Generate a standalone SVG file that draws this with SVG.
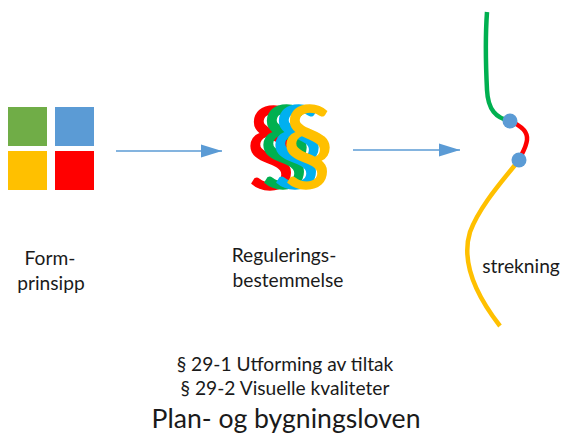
<svg xmlns="http://www.w3.org/2000/svg" width="563" height="433" viewBox="0 0 563 433">
<style>
text{font-family:Lato,"Liberation Sans",sans-serif;fill:#1a1a1a;text-anchor:middle}
.l{font-size:19.2px}
.p{font-size:106px;stroke-width:1.5px}
.c{fill:none;stroke-width:4.5}
.a{fill:none;stroke:#5b9bd5;stroke-width:1.3;marker-end:url(#ah)}
.d{fill:#5b9bd5}
</style>
<defs><marker id="ah" markerUnits="userSpaceOnUse" markerWidth="22" markerHeight="14" refX="21" refY="7" orient="auto"><path d="M0 0.5L21 7L0 13.5Z" fill="#5b9bd5"/></marker></defs>
<rect width="563" height="433" fill="#fff"/>
<g id="formprinsipp">
<rect x="8" y="107" width="39" height="39" fill="#70ad47"/>
<rect x="55" y="107" width="39" height="39" fill="#5b9bd5"/>
<rect x="8" y="151" width="39" height="39" fill="#ffc000"/>
<rect x="55" y="151" width="39" height="39" fill="#f00"/>
<text class="l" x="50" y="265">Form-</text>
<text class="l" x="51" y="290">prinsipp</text>
</g>
<g id="connectors">
<line class="a" x1="116" y1="151" x2="222" y2="151"/>
<line class="a" x1="353" y1="150" x2="460" y2="150"/>
</g>
<g id="regulering">
<text class="p" x="272" y="183" style="fill:#f00;stroke:#f00">§</text>
<text class="p" x="285" y="182" style="fill:#00b050;stroke:#00b050">§</text>
<text class="p" x="297" y="182" style="fill:#00b0f0;stroke:#00b0f0">§</text>
<text class="p" x="308" y="182" style="fill:#ffc000;stroke:#ffc000">§</text>
<text class="l" x="284" y="262">Regulerings-</text>
<text class="l" x="288" y="287">bestemmelse</text>
</g>
<g id="strekning">
<path class="c" stroke="#00b050" d="M487 12C485 40 486 70 487 90C488 110 496 118 510 121"/>
<path class="c" stroke="#f00" d="M510 121C522 126 528 132 527 140C526 148 522 153 519 160"/>
<path class="c" stroke="#ffc000" d="M519 160C505 178 480 205 470 232C462 258 472 290 500 326"/>
<circle class="d" cx="510" cy="121" r="7.5"/>
<circle class="d" cx="519" cy="160" r="7.5"/>
<text class="l" x="521" y="273">strekning</text>
</g>
<g id="lov">
<text class="l" x="285" y="371">§ 29-1 Utforming av tiltak</text>
<text class="l" x="285" y="395">§ 29-2 Visuelle kvaliteter</text>
<text x="286" y="428" font-size="26.6">Plan- og bygningsloven</text>
</g>
</svg>
